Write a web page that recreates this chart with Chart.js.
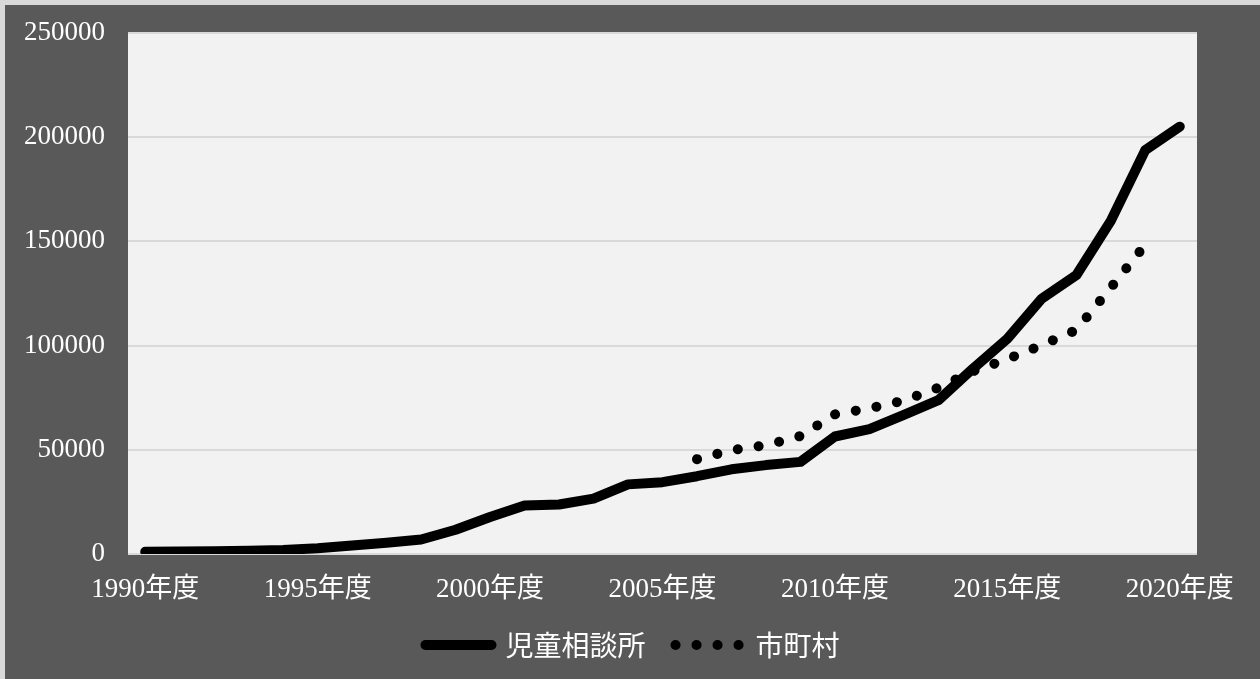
<!DOCTYPE html>
<html>
<head>
<meta charset="utf-8">
<script src="https://cdn.jsdelivr.net/npm/chart.js"></script>
<style>
	body { margin: 0; background: #d9d9d9; }
	#wrap { position: absolute; left: 5px; top: 5px; width: 1255px; height: 674px; background: #595959; }
</style>
</head>
<body>
<div id="wrap"><canvas id="abuse_chart"></canvas></div>
<script>
// 年度ラベル
const years = [];
for (let y = 1990; y <= 2020; y++) years.push(y + '年度');

// 児童相談所の相談対応件数
const jidouSoudanjo = [
	1101, 1171, 1372, 1611, 1961, 2722, 4102, 5352, 6932, 11631,
	17725, 23274, 23738, 26569, 33408, 34472, 37323, 40639, 42664, 44211,
	56384, 59919, 66701, 73802, 88931, 103286, 122575, 133778, 159838, 193780,
	205044
];

// 市町村の相談対応件数 (2006年度から2019年度)
const shichouson = [
	null, null, null, null, null, null, null, null, null, null,
	null, null, null, null, null, null, 45500, 49800, 52200, 56600,
	67000, 69900, 73600, 79800, 87700, 93500, 100200, 107500, 127800, 148400,
	null
];

const yTicks = [0, 50000, 100000, 150000, 200000, 250000];

const tickFont = { family: '"Liberation Serif", "Noto Sans CJK JP"', size: 27 };

// plot area background
const plotBg = {
	id: 'plotBg',
	beforeDraw(chart) {
		const a = chart.chartArea;
		const ctx = chart.ctx;
		ctx.save();
		ctx.fillStyle = '#f2f2f2';
		ctx.fillRect(a.left, a.top, a.right - a.left, a.bottom - a.top);
		ctx.restore();
	}
};

new Chart(document.getElementById('abuse_chart'), {
	type: 'line',
	data: {
		labels: years,
		datasets: [{
			label: '児童相談所',
			data: jidouSoudanjo,
			borderColor: '#000000',
			backgroundColor: '#000000',
			borderWidth: 10,
			borderCapStyle: 'round',
			borderJoinStyle: 'round',
			pointRadius: 0,
			tension: 0
		}, {
			label: '市町村',
			data: shichouson,
			borderColor: '#000000',
			backgroundColor: '#000000',
			borderWidth: 10,
			borderCapStyle: 'round',
			borderJoinStyle: 'round',
			borderDash: [0.1, 20.9],
			pointRadius: 0,
			tension: 0
		}]
	},
	options: {
		responsive: true,
		maintainAspectRatio: false,
		animation: false,
		layout: { padding: { left: 0, top: 28, right: 0, bottom: 10 } },
		scales: {
			x: {
				offset: true,
				grid: { display: false, drawTicks: false },
				border: { display: false },
				ticks: {
					color: '#ffffff',
					font: tickFont,
					padding: 20,
					maxRotation: 0,
					autoSkip: false,
					callback: function(val, i) { return i % 5 === 0 ? years[i] : ''; }
				},
				afterFit: s => { s.height = 47; s.paddingRight = 63; s.paddingLeft = 0; }
			},
			y: {
				min: 0,
				max: 250000,
				afterBuildTicks: s => { s.ticks = yTicks.map(v => ({ value: v })); },
				grid: { color: '#d9d9d9', lineWidth: 2, drawTicks: false },
				border: { display: false },
				ticks: {
					color: '#ffffff',
					font: tickFont,
					padding: 23,
					callback: v => String(v)
				},
				afterFit: s => { s.width = 123; s.paddingTop = 0; s.paddingBottom = 0; }
			}
		},
		plugins: {
			legend: {
				position: 'bottom',
				labels: {
					color: '#ffffff',
					font: { family: '"Noto Sans CJK JP"', size: 28 },
					usePointStyle: true,
					pointStyle: 'line',
					pointStyleWidth: 66,
					padding: 30,
					generateLabels: function(chart) {
						const items = Chart.defaults.plugins.legend.labels.generateLabels(chart);
						items.forEach(it => {
							const ds = chart.data.datasets[it.datasetIndex];
							it.lineWidth = ds.borderWidth;
							it.lineCap = 'round';
							it.lineDash = ds.borderDash || [];
							it.strokeStyle = ds.borderColor;
							it.fontColor = '#ffffff';
						});
						return items;
					}
				}
			},
			tooltip: { enabled: false }
		}
	},
	plugins: [plotBg]
});
</script>
</body>
</html>
